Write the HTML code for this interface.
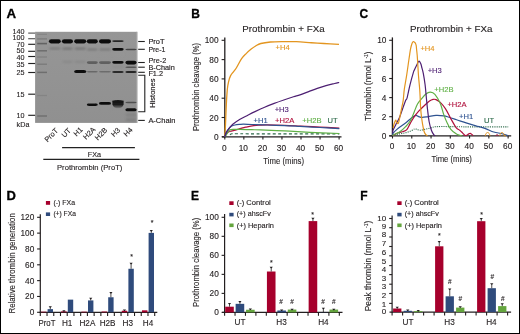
<!DOCTYPE html>
<html><head><meta charset="utf-8"><style>
html,body{margin:0;padding:0;background:#fff;}
svg{display:block;font-family:'Liberation Sans', sans-serif;will-change:transform;}
</style></head><body>
<svg width="520" height="334" viewBox="0 0 520 334">
<rect x="0" y="0" width="520" height="334" fill="#fff"/>
<text x="6.40" y="17.60" font-size="12" text-anchor="start" fill="#000" stroke="#000" stroke-width="0.3" font-weight="bold" textLength="9.6" lengthAdjust="spacingAndGlyphs" >A</text>
<text x="191.20" y="17.70" font-size="12" text-anchor="start" fill="#000" stroke="#000" stroke-width="0.3" font-weight="bold" >B</text>
<text x="359.60" y="17.70" font-size="12" text-anchor="start" fill="#000" stroke="#000" stroke-width="0.3" font-weight="bold" >C</text>
<text x="6.60" y="199.70" font-size="12" text-anchor="start" fill="#000" stroke="#000" stroke-width="0.3" font-weight="bold" textLength="9.4" lengthAdjust="spacingAndGlyphs" >D</text>
<text x="191.00" y="199.70" font-size="12" text-anchor="start" fill="#000" stroke="#000" stroke-width="0.3" font-weight="bold" >E</text>
<text x="360.30" y="199.70" font-size="12" text-anchor="start" fill="#000" stroke="#000" stroke-width="0.3" font-weight="bold" >F</text>
<defs><filter id="bl" x="-20%" y="-100%" width="140%" height="300%"><feGaussianBlur stdDeviation="0.55"/></filter><filter id="bl3" x="-20%" y="-100%" width="140%" height="300%"><feGaussianBlur stdDeviation="0.75"/></filter><filter id="bl2" x="-20%" y="-100%" width="140%" height="300%"><feGaussianBlur stdDeviation="0.8"/></filter><linearGradient id="gelg" x1="0" y1="0" x2="0" y2="1"><stop offset="0" stop-color="#969696"/><stop offset="1" stop-color="#909090"/></linearGradient><linearGradient id="h3g" x1="0" y1="0" x2="0" y2="1"><stop offset="0" stop-color="#141414"/><stop offset="0.55" stop-color="#1c1c1c"/><stop offset="1" stop-color="#7a7a7a"/></linearGradient></defs>
<rect x="35.10" y="31.80" width="102.20" height="91.10" fill="url(#gelg)" />
<rect x="136.30" y="31.80" width="1.00" height="91.10" fill="#a8a8a8" />
<g filter="url(#bl2)">
</g><g filter="url(#bl)">
<rect x="37.20" y="33.70" width="9.80" height="1.20" fill="#848484" />
<rect x="37.20" y="38.25" width="9.80" height="1.30" fill="#7c7c7c" />
<rect x="37.20" y="42.80" width="9.80" height="1.60" fill="#646464" />
<rect x="37.20" y="50.05" width="9.80" height="1.50" fill="#6e6e6e" />
<rect x="37.20" y="56.35" width="9.80" height="1.30" fill="#808080" />
<rect x="37.20" y="63.55" width="9.80" height="1.30" fill="#7a7a7a" />
<rect x="37.20" y="71.65" width="9.80" height="1.50" fill="#6e6e6e" />
<rect x="37.20" y="94.85" width="9.80" height="1.30" fill="#848484" />
<rect x="37.20" y="115.10" width="9.80" height="1.80" fill="#767676" />
</g><g filter="url(#bl2)">
<rect x="49.10" y="47.70" width="11.50" height="1.6" rx="1.8" ry="0.8" fill="#707070"/>
<rect x="62.10" y="47.80" width="10.70" height="1.6" rx="1.8" ry="0.8" fill="#6c6c6c"/>
<rect x="74.40" y="47.80" width="11.60" height="1.6" rx="1.8" ry="0.8" fill="#6c6c6c"/>
<rect x="87.00" y="48.85" width="10.60" height="1.5" rx="1.8" ry="0.75" fill="#6e6e6e"/>
<rect x="99.20" y="48.85" width="11.60" height="1.5" rx="1.8" ry="0.75" fill="#6e6e6e"/>
<rect x="62.10" y="61.05" width="10.70" height="1.5" rx="1.8" ry="0.75" fill="#848484"/>
<rect x="74.40" y="61.05" width="11.60" height="1.5" rx="1.8" ry="0.75" fill="#848484"/>
<rect x="87.00" y="54.00" width="10.60" height="1.2" rx="1.8" ry="0.6" fill="#959595"/>
<rect x="99.20" y="54.00" width="11.60" height="1.2" rx="1.8" ry="0.6" fill="#959595"/>
<rect x="112.40" y="54.00" width="11.10" height="1.2" rx="1.8" ry="0.6" fill="#979797"/>
<rect x="112.40" y="65.90" width="11.10" height="1.2" rx="1.8" ry="0.6" fill="#8c8c8c"/>
<rect x="112.40" y="66.40" width="11.10" height="1.2" rx="1.8" ry="0.6" fill="#8a8a8a"/>
<rect x="125.60" y="113.65" width="10.80" height="1.9" rx="1.8" ry="0.95" fill="#7c7c7c"/>
<rect x="125.60" y="118.85" width="10.80" height="2.3" rx="1.8" ry="1.15" fill="#7e7e7e"/>
<rect x="125.60" y="115.80" width="10.80" height="3.0" rx="1.8" ry="1.5" fill="#8c8c8c"/>
<rect x="87.00" y="107.40" width="10.60" height="2.4" rx="1.8" ry="1.2" fill="#929292"/>
<rect x="99.20" y="106.80" width="11.60" height="2.4" rx="1.8" ry="1.2" fill="#929292"/>
</g>
<g filter="url(#bl3)">
<rect x="48.90" y="39.15" width="11.90" height="4.3" rx="2.2" ry="2.15" fill="#0e0e0e"/>
<rect x="61.90" y="39.15" width="11.10" height="4.3" rx="2.2" ry="2.15" fill="#0e0e0e"/>
<rect x="74.20" y="39.15" width="12.00" height="4.3" rx="2.2" ry="2.15" fill="#0e0e0e"/>
<rect x="86.80" y="39.15" width="11.00" height="4.3" rx="2.2" ry="2.15" fill="#0e0e0e"/>
<rect x="99.00" y="39.15" width="12.00" height="4.3" rx="2.2" ry="2.15" fill="#0e0e0e"/>
<rect x="112.20" y="40.15" width="11.50" height="1.9" rx="2.2" ry="0.95" fill="#262626"/>
<rect x="112.20" y="47.90" width="11.50" height="2.8" rx="2.2" ry="1.40" fill="#0e0e0e"/>
<rect x="125.40" y="48.70" width="11.20" height="1.6" rx="2.2" ry="0.80" fill="#444"/>
<rect x="86.80" y="61.20" width="11.00" height="2.8" rx="2.2" ry="1.40" fill="#5e5e5e"/>
<rect x="99.00" y="61.20" width="12.00" height="2.8" rx="2.2" ry="1.40" fill="#606060"/>
<rect x="112.20" y="60.95" width="11.50" height="2.7" rx="2.2" ry="1.35" fill="#0e0e0e"/>
<rect x="125.40" y="60.80" width="11.20" height="3.6" rx="2.2" ry="1.80" fill="#0c0c0c"/>
<rect x="125.40" y="66.60" width="11.20" height="1.4" rx="2.2" ry="0.70" fill="#555"/>
<rect x="74.20" y="70.00" width="12.00" height="3.0" rx="2.2" ry="1.50" fill="#0a0a0a"/>
<rect x="86.80" y="70.90" width="11.00" height="1.6" rx="2.2" ry="0.80" fill="#686868"/>
<rect x="99.00" y="70.90" width="12.00" height="1.6" rx="2.2" ry="0.80" fill="#6c6c6c"/>
<rect x="112.20" y="70.90" width="11.50" height="2.2" rx="2.2" ry="1.10" fill="#2a2a2a"/>
<rect x="125.40" y="70.90" width="11.20" height="2.2" rx="2.2" ry="1.10" fill="#262626"/>
<rect x="86.80" y="103.60" width="11.00" height="2.3" rx="2.2" ry="1.15" fill="#0e0e0e"/>
<rect x="99.00" y="102.00" width="12.00" height="2.8" rx="2.2" ry="1.40" fill="#0e0e0e"/>
<rect x="125.40" y="101.75" width="11.20" height="1.5" rx="2.2" ry="0.75" fill="#505050"/>
<rect x="125.40" y="108.20" width="11.20" height="3.0" rx="2.2" ry="1.50" fill="#0a0a0a"/>
<path d="M112.3,100.8 Q118,99.4 123.7,100.8 L123.6,104.2 Q122.8,108.2 118,108.2 Q113.2,108.2 112.4,104.2 Z" fill="url(#h3g)"/>
</g>
<line x1="28.20" y1="33.10" x2="35.10" y2="33.10" stroke="#555" stroke-width="1.15" />
<text x="24.50" y="33.90" font-size="7.2" text-anchor="end" fill="#231f20" stroke="#231f20" stroke-width="0.12" font-weight="normal" >140</text>
<line x1="28.20" y1="38.70" x2="35.10" y2="38.70" stroke="#555" stroke-width="1.15" />
<text x="24.50" y="40.40" font-size="7.2" text-anchor="end" fill="#231f20" stroke="#231f20" stroke-width="0.12" font-weight="normal" >100</text>
<line x1="28.20" y1="44.30" x2="35.10" y2="44.30" stroke="#222" stroke-width="1.15" />
<text x="24.50" y="46.70" font-size="7.2" text-anchor="end" fill="#231f20" stroke="#231f20" stroke-width="0.12" font-weight="normal" >70</text>
<line x1="28.20" y1="51.30" x2="35.10" y2="51.30" stroke="#222" stroke-width="1.15" />
<text x="24.50" y="53.20" font-size="7.2" text-anchor="end" fill="#231f20" stroke="#231f20" stroke-width="0.12" font-weight="normal" >50</text>
<line x1="28.20" y1="56.50" x2="35.10" y2="56.50" stroke="#222" stroke-width="1.15" />
<text x="24.50" y="60.10" font-size="7.2" text-anchor="end" fill="#231f20" stroke="#231f20" stroke-width="0.12" font-weight="normal" >40</text>
<line x1="28.20" y1="63.50" x2="35.10" y2="63.50" stroke="#222" stroke-width="1.15" />
<text x="24.50" y="66.50" font-size="7.2" text-anchor="end" fill="#231f20" stroke="#231f20" stroke-width="0.12" font-weight="normal" >35</text>
<line x1="28.20" y1="72.50" x2="35.10" y2="72.50" stroke="#222" stroke-width="1.15" />
<text x="24.50" y="75.10" font-size="7.2" text-anchor="end" fill="#231f20" stroke="#231f20" stroke-width="0.12" font-weight="normal" >25</text>
<line x1="28.20" y1="94.20" x2="35.10" y2="94.20" stroke="#222" stroke-width="1.15" />
<text x="24.50" y="96.80" font-size="7.2" text-anchor="end" fill="#231f20" stroke="#231f20" stroke-width="0.12" font-weight="normal" >15</text>
<line x1="28.20" y1="115.30" x2="35.10" y2="115.30" stroke="#222" stroke-width="1.15" />
<text x="24.50" y="117.90" font-size="7.2" text-anchor="end" fill="#231f20" stroke="#231f20" stroke-width="0.12" font-weight="normal" >10</text>
<text x="16.60" y="127.00" font-size="7.2" text-anchor="start" fill="#231f20" stroke="#231f20" stroke-width="0.12" font-weight="normal" >kDa</text>
<line x1="138.20" y1="41.50" x2="144.80" y2="41.50" stroke="#222" stroke-width="1.1" />
<text x="148.40" y="43.60" font-size="7.7" text-anchor="start" fill="#231f20" stroke="#231f20" stroke-width="0.16" font-weight="normal" textLength="16.2" lengthAdjust="spacingAndGlyphs" >ProT</text>
<line x1="138.20" y1="49.30" x2="144.80" y2="49.30" stroke="#222" stroke-width="1.1" />
<text x="148.40" y="51.70" font-size="7.7" text-anchor="start" fill="#231f20" stroke="#231f20" stroke-width="0.16" font-weight="normal" textLength="17.0" lengthAdjust="spacingAndGlyphs" >Pre-1</text>
<line x1="138.20" y1="62.50" x2="144.80" y2="62.50" stroke="#222" stroke-width="1.1" />
<text x="148.40" y="62.70" font-size="7.7" text-anchor="start" fill="#231f20" stroke="#231f20" stroke-width="0.16" font-weight="normal" textLength="17.8" lengthAdjust="spacingAndGlyphs" >Pre-2</text>
<line x1="138.20" y1="67.20" x2="144.80" y2="67.20" stroke="#222" stroke-width="1.1" />
<text x="148.40" y="69.60" font-size="7.7" text-anchor="start" fill="#231f20" stroke="#231f20" stroke-width="0.16" font-weight="normal" textLength="26.3" lengthAdjust="spacingAndGlyphs" >B-Chain</text>
<line x1="138.20" y1="72.30" x2="144.80" y2="72.30" stroke="#222" stroke-width="1.1" />
<text x="148.40" y="75.90" font-size="7.7" text-anchor="start" fill="#231f20" stroke="#231f20" stroke-width="0.16" font-weight="normal" textLength="14.6" lengthAdjust="spacingAndGlyphs" >F1.2</text>
<line x1="138.20" y1="120.40" x2="144.80" y2="120.40" stroke="#222" stroke-width="1.1" />
<text x="148.40" y="122.70" font-size="7.7" text-anchor="start" fill="#231f20" stroke="#231f20" stroke-width="0.16" font-weight="normal" textLength="27.0" lengthAdjust="spacingAndGlyphs" >A-Chain</text>
<polyline points="138.2,75.2 144.8,75.2 144.8,111.7 138.2,111.7" fill="none" stroke="#222" stroke-width="1.1"/>
<text x="0.00" y="0.00" font-size="7.7" text-anchor="middle" fill="#231f20" stroke="#231f20" stroke-width="0.16" font-weight="normal" textLength="29.2" lengthAdjust="spacingAndGlyphs" transform="translate(155.0,93.2) rotate(-90)">Histones</text>
<text x="0.00" y="0.00" font-size="7.3" text-anchor="end" fill="#231f20" stroke="#231f20" stroke-width="0.12" font-weight="normal" transform="translate(58.6,131.2) rotate(-45)">ProT</text>
<text x="0.00" y="0.00" font-size="7.3" text-anchor="end" fill="#231f20" stroke="#231f20" stroke-width="0.12" font-weight="normal" transform="translate(71.4,131.2) rotate(-45)">UT</text>
<text x="0.00" y="0.00" font-size="7.3" text-anchor="end" fill="#231f20" stroke="#231f20" stroke-width="0.12" font-weight="normal" transform="translate(83.2,130.2) rotate(-45)">H1</text>
<text x="0.00" y="0.00" font-size="7.3" text-anchor="end" fill="#231f20" stroke="#231f20" stroke-width="0.12" font-weight="normal" transform="translate(96.0,130.0) rotate(-45)">H2A</text>
<text x="0.00" y="0.00" font-size="7.3" text-anchor="end" fill="#231f20" stroke="#231f20" stroke-width="0.12" font-weight="normal" transform="translate(107.8,130.6) rotate(-45)">H2B</text>
<text x="0.00" y="0.00" font-size="7.3" text-anchor="end" fill="#231f20" stroke="#231f20" stroke-width="0.12" font-weight="normal" transform="translate(120.5,130.6) rotate(-45)">H3</text>
<text x="0.00" y="0.00" font-size="7.3" text-anchor="end" fill="#231f20" stroke="#231f20" stroke-width="0.12" font-weight="normal" transform="translate(133.0,130.4) rotate(-45)">H4</text>
<line x1="62.10" y1="147.60" x2="134.90" y2="147.60" stroke="#222" stroke-width="1.1" />
<text x="94.45" y="157.40" font-size="7.2" text-anchor="middle" fill="#231f20" stroke="#231f20" stroke-width="0.12" font-weight="normal" >FXa</text>
<line x1="43.30" y1="159.40" x2="139.40" y2="159.40" stroke="#222" stroke-width="1.1" />
<text x="89.70" y="169.70" font-size="7.5" text-anchor="middle" fill="#231f20" stroke="#231f20" stroke-width="0.12" font-weight="normal" textLength="65.4" lengthAdjust="spacingAndGlyphs" >Prothrombin (ProT)</text>
<text x="283.45" y="31.80" font-size="9.2" text-anchor="middle" fill="#231f20" stroke="#231f20" stroke-width="0.12" font-weight="normal" textLength="82.3" lengthAdjust="spacingAndGlyphs" >Prothrombin + FXa</text>
<line x1="224.80" y1="37.40" x2="224.80" y2="137.40" stroke="#231f20" stroke-width="1.3" />
<line x1="222.00" y1="136.80" x2="341.50" y2="136.80" stroke="#231f20" stroke-width="1.3" />
<line x1="221.60" y1="136.80" x2="224.80" y2="136.80" stroke="#231f20" stroke-width="1.1" />
<text x="218.60" y="139.80" font-size="8.3" text-anchor="end" fill="#231f20" stroke="#231f20" stroke-width="0.12" font-weight="normal" >0</text>
<line x1="221.60" y1="117.50" x2="224.80" y2="117.50" stroke="#231f20" stroke-width="1.1" />
<text x="218.60" y="120.50" font-size="8.3" text-anchor="end" fill="#231f20" stroke="#231f20" stroke-width="0.12" font-weight="normal" >20</text>
<line x1="221.60" y1="98.20" x2="224.80" y2="98.20" stroke="#231f20" stroke-width="1.1" />
<text x="218.60" y="101.20" font-size="8.3" text-anchor="end" fill="#231f20" stroke="#231f20" stroke-width="0.12" font-weight="normal" >40</text>
<line x1="221.60" y1="78.90" x2="224.80" y2="78.90" stroke="#231f20" stroke-width="1.1" />
<text x="218.60" y="81.90" font-size="8.3" text-anchor="end" fill="#231f20" stroke="#231f20" stroke-width="0.12" font-weight="normal" >60</text>
<line x1="221.60" y1="59.60" x2="224.80" y2="59.60" stroke="#231f20" stroke-width="1.1" />
<text x="218.60" y="62.60" font-size="8.3" text-anchor="end" fill="#231f20" stroke="#231f20" stroke-width="0.12" font-weight="normal" >80</text>
<line x1="221.60" y1="40.30" x2="224.80" y2="40.30" stroke="#231f20" stroke-width="1.1" />
<text x="218.60" y="43.30" font-size="8.3" text-anchor="end" fill="#231f20" stroke="#231f20" stroke-width="0.12" font-weight="normal" >100</text>
<line x1="224.80" y1="136.80" x2="224.80" y2="139.60" stroke="#231f20" stroke-width="1.1" />
<text x="224.30" y="150.50" font-size="8.3" text-anchor="middle" fill="#231f20" stroke="#231f20" stroke-width="0.12" font-weight="normal" >0</text>
<line x1="243.85" y1="136.80" x2="243.85" y2="139.60" stroke="#231f20" stroke-width="1.1" />
<text x="243.35" y="150.50" font-size="8.3" text-anchor="middle" fill="#231f20" stroke="#231f20" stroke-width="0.12" font-weight="normal" >10</text>
<line x1="262.90" y1="136.80" x2="262.90" y2="139.60" stroke="#231f20" stroke-width="1.1" />
<text x="262.40" y="150.50" font-size="8.3" text-anchor="middle" fill="#231f20" stroke="#231f20" stroke-width="0.12" font-weight="normal" >20</text>
<line x1="281.95" y1="136.80" x2="281.95" y2="139.60" stroke="#231f20" stroke-width="1.1" />
<text x="281.45" y="150.50" font-size="8.3" text-anchor="middle" fill="#231f20" stroke="#231f20" stroke-width="0.12" font-weight="normal" >30</text>
<line x1="301.00" y1="136.80" x2="301.00" y2="139.60" stroke="#231f20" stroke-width="1.1" />
<text x="300.50" y="150.50" font-size="8.3" text-anchor="middle" fill="#231f20" stroke="#231f20" stroke-width="0.12" font-weight="normal" >40</text>
<line x1="320.05" y1="136.80" x2="320.05" y2="139.60" stroke="#231f20" stroke-width="1.1" />
<text x="319.55" y="150.50" font-size="8.3" text-anchor="middle" fill="#231f20" stroke="#231f20" stroke-width="0.12" font-weight="normal" >50</text>
<line x1="339.10" y1="136.80" x2="339.10" y2="139.60" stroke="#231f20" stroke-width="1.1" />
<text x="338.60" y="150.50" font-size="8.3" text-anchor="middle" fill="#231f20" stroke="#231f20" stroke-width="0.12" font-weight="normal" >60</text>
<text x="283.65" y="163.90" font-size="9.3" text-anchor="middle" fill="#231f20" stroke="#231f20" stroke-width="0.12" font-weight="normal" textLength="40.7" lengthAdjust="spacingAndGlyphs" >Time (mins)</text>
<text x="0.00" y="0.00" font-size="9.2" text-anchor="middle" fill="#231f20" stroke="#231f20" stroke-width="0.12" font-weight="normal" textLength="88.0" lengthAdjust="spacingAndGlyphs" transform="translate(199.4,87.0) rotate(-90)">Prothrombin cleavage (%)</text>
<path d="M224.80,136.80 C224.92,134.67 225.25,129.30 225.50,124.00 C225.75,118.70 226.00,110.75 226.30,105.00 C226.60,99.25 226.92,93.40 227.30,89.50 C227.68,85.60 228.07,83.87 228.60,81.60 C229.13,79.33 229.70,77.53 230.50,75.90 C231.30,74.27 232.43,73.12 233.40,71.80 C234.37,70.48 234.93,70.18 236.30,68.00 C237.67,65.82 239.92,61.13 241.60,58.70 C243.28,56.27 244.80,55.00 246.40,53.40 C248.00,51.80 249.60,50.38 251.20,49.10 C252.80,47.82 254.40,46.63 256.00,45.70 C257.60,44.77 258.38,44.12 260.80,43.50 C263.22,42.88 266.97,42.32 270.50,42.00 C274.03,41.68 277.70,41.65 282.00,41.60 C286.30,41.55 291.42,41.51 296.30,41.70 C301.18,41.89 306.72,42.45 311.30,42.75 C315.88,43.05 319.18,43.24 323.80,43.50 C328.42,43.76 336.47,44.17 339.00,44.30" fill="none" stroke="#e3951f" stroke-width="1.3"/>
<path d="M229.90,134.80 C230.25,134.63 230.32,133.97 232.00,133.80 C233.68,133.63 232.00,133.78 240.00,133.80 C248.00,133.82 263.45,133.88 280.00,133.90 C296.55,133.92 329.42,133.90 339.30,133.90" fill="none" stroke="#2d6a4a" stroke-width="1.1" stroke-dasharray="3.0,2.4"/>
<path d="M224.80,136.80 C224.90,136.60 225.20,136.00 225.40,135.60 C225.60,135.20 225.62,134.93 226.00,134.40 C226.38,133.87 226.93,132.93 227.70,132.40 C228.47,131.87 229.52,131.53 230.60,131.20 C231.68,130.87 232.63,130.83 234.20,130.40 C235.77,129.97 238.08,129.13 240.00,128.60 C241.92,128.07 243.42,127.70 245.70,127.20 C247.98,126.70 251.32,125.95 253.70,125.60 C256.08,125.25 257.75,125.22 260.00,125.10 C262.25,124.98 263.08,124.87 267.20,124.90 C271.32,124.93 279.23,125.12 284.70,125.30 C290.17,125.48 294.12,125.72 300.00,126.00 C305.88,126.28 313.45,126.65 320.00,127.00 C326.55,127.35 336.08,127.92 339.30,128.10" fill="none" stroke="#b0103c" stroke-width="1.2"/>
<path d="M224.80,136.80 C224.93,136.67 225.23,136.52 225.60,136.00 C225.97,135.48 226.52,134.50 227.00,133.70 C227.48,132.90 228.02,131.83 228.50,131.20 C228.98,130.57 229.18,130.20 229.90,129.90 C230.62,129.60 231.12,129.48 232.80,129.40 C234.48,129.32 236.80,129.35 240.00,129.40 C243.20,129.45 248.58,129.62 252.00,129.70 C255.42,129.78 255.05,129.70 260.50,129.90 C265.95,130.10 276.45,130.50 284.70,130.90 C292.95,131.30 300.90,131.87 310.00,132.30 C319.10,132.73 334.42,133.30 339.30,133.50" fill="none" stroke="#5fb045" stroke-width="1.2"/>
<path d="M224.80,136.80 C224.97,136.33 225.43,134.87 225.80,134.00 C226.17,133.13 226.43,132.57 227.00,131.60 C227.57,130.63 228.48,129.10 229.20,128.20 C229.92,127.30 230.35,126.73 231.30,126.20 C232.25,125.67 233.45,125.30 234.90,125.00 C236.35,124.70 238.57,124.53 240.00,124.40 C241.43,124.27 241.50,124.18 243.50,124.20 C245.50,124.22 248.05,124.37 252.00,124.50 C255.95,124.63 261.75,124.82 267.20,125.00 C272.65,125.18 279.23,125.37 284.70,125.60 C290.17,125.83 294.12,126.08 300.00,126.40 C305.88,126.72 313.45,127.13 320.00,127.50 C326.55,127.87 336.08,128.42 339.30,128.60" fill="none" stroke="#2f5391" stroke-width="1.2"/>
<path d="M224.80,136.80 C225.05,136.03 225.57,133.62 226.30,132.20 C227.03,130.78 228.12,129.62 229.20,128.30 C230.28,126.98 231.00,125.80 232.80,124.30 C234.60,122.80 237.50,120.82 240.00,119.30 C242.50,117.78 245.30,116.48 247.80,115.20 C250.30,113.92 252.20,112.93 255.00,111.60 C257.80,110.27 261.40,108.57 264.60,107.20 C267.80,105.83 271.00,104.60 274.20,103.40 C277.40,102.20 280.58,101.10 283.80,100.00 C287.02,98.90 290.80,97.65 293.50,96.80 C296.20,95.95 297.47,95.77 300.00,94.90 C302.53,94.03 305.82,92.68 308.70,91.60 C311.58,90.52 314.42,89.40 317.30,88.40 C320.18,87.40 323.12,86.42 326.00,85.60 C328.88,84.78 332.40,84.02 334.60,83.50 C336.80,82.98 338.43,82.67 339.20,82.50" fill="none" stroke="#4d1f72" stroke-width="1.2"/>
<text x="275.60" y="50.30" font-size="7.6" text-anchor="start" fill="#e3951f" stroke="#e3951f" stroke-width="0.12" font-weight="normal" >+H4</text>
<text x="274.70" y="111.80" font-size="7.6" text-anchor="start" fill="#4d1f72" stroke="#4d1f72" stroke-width="0.12" font-weight="normal" >+H3</text>
<text x="253.60" y="122.90" font-size="7.6" text-anchor="start" fill="#2f5391" stroke="#2f5391" stroke-width="0.12" font-weight="normal" >+H1</text>
<text x="275.00" y="122.90" font-size="7.6" text-anchor="start" fill="#b0103c" stroke="#b0103c" stroke-width="0.12" font-weight="normal" >+H2A</text>
<text x="302.30" y="122.90" font-size="7.6" text-anchor="start" fill="#5fb045" stroke="#5fb045" stroke-width="0.12" font-weight="normal" >+H2B</text>
<text x="327.60" y="122.90" font-size="7.6" text-anchor="start" fill="#2d6a4a" stroke="#2d6a4a" stroke-width="0.12" font-weight="normal" >UT</text>
<text x="451.20" y="31.80" font-size="9.2" text-anchor="middle" fill="#231f20" stroke="#231f20" stroke-width="0.12" font-weight="normal" textLength="82.3" lengthAdjust="spacingAndGlyphs" >Prothrombin + FXa</text>
<line x1="392.40" y1="37.40" x2="392.40" y2="136.40" stroke="#231f20" stroke-width="1.3" />
<line x1="389.20" y1="135.80" x2="511.20" y2="135.80" stroke="#231f20" stroke-width="1.3" />
<line x1="389.20" y1="135.80" x2="392.40" y2="135.80" stroke="#231f20" stroke-width="1.1" />
<text x="386.40" y="138.80" font-size="8.3" text-anchor="end" fill="#231f20" stroke="#231f20" stroke-width="0.12" font-weight="normal" >0</text>
<line x1="389.20" y1="116.70" x2="392.40" y2="116.70" stroke="#231f20" stroke-width="1.1" />
<text x="386.40" y="119.70" font-size="8.3" text-anchor="end" fill="#231f20" stroke="#231f20" stroke-width="0.12" font-weight="normal" >2</text>
<line x1="389.20" y1="97.60" x2="392.40" y2="97.60" stroke="#231f20" stroke-width="1.1" />
<text x="386.40" y="100.60" font-size="8.3" text-anchor="end" fill="#231f20" stroke="#231f20" stroke-width="0.12" font-weight="normal" >4</text>
<line x1="389.20" y1="78.50" x2="392.40" y2="78.50" stroke="#231f20" stroke-width="1.1" />
<text x="386.40" y="81.50" font-size="8.3" text-anchor="end" fill="#231f20" stroke="#231f20" stroke-width="0.12" font-weight="normal" >6</text>
<line x1="389.20" y1="59.40" x2="392.40" y2="59.40" stroke="#231f20" stroke-width="1.1" />
<text x="386.40" y="62.40" font-size="8.3" text-anchor="end" fill="#231f20" stroke="#231f20" stroke-width="0.12" font-weight="normal" >8</text>
<line x1="389.20" y1="40.30" x2="392.40" y2="40.30" stroke="#231f20" stroke-width="1.1" />
<text x="386.40" y="43.30" font-size="8.3" text-anchor="end" fill="#231f20" stroke="#231f20" stroke-width="0.12" font-weight="normal" >10</text>
<line x1="392.50" y1="135.80" x2="392.50" y2="138.50" stroke="#231f20" stroke-width="1.1" />
<text x="392.10" y="148.80" font-size="8.3" text-anchor="middle" fill="#231f20" stroke="#231f20" stroke-width="0.12" font-weight="normal" >0</text>
<line x1="411.77" y1="135.80" x2="411.77" y2="138.50" stroke="#231f20" stroke-width="1.1" />
<text x="411.37" y="148.80" font-size="8.3" text-anchor="middle" fill="#231f20" stroke="#231f20" stroke-width="0.12" font-weight="normal" >10</text>
<line x1="431.04" y1="135.80" x2="431.04" y2="138.50" stroke="#231f20" stroke-width="1.1" />
<text x="430.64" y="148.80" font-size="8.3" text-anchor="middle" fill="#231f20" stroke="#231f20" stroke-width="0.12" font-weight="normal" >20</text>
<line x1="450.31" y1="135.80" x2="450.31" y2="138.50" stroke="#231f20" stroke-width="1.1" />
<text x="449.91" y="148.80" font-size="8.3" text-anchor="middle" fill="#231f20" stroke="#231f20" stroke-width="0.12" font-weight="normal" >30</text>
<line x1="469.58" y1="135.80" x2="469.58" y2="138.50" stroke="#231f20" stroke-width="1.1" />
<text x="469.18" y="148.80" font-size="8.3" text-anchor="middle" fill="#231f20" stroke="#231f20" stroke-width="0.12" font-weight="normal" >40</text>
<line x1="488.85" y1="135.80" x2="488.85" y2="138.50" stroke="#231f20" stroke-width="1.1" />
<text x="488.45" y="148.80" font-size="8.3" text-anchor="middle" fill="#231f20" stroke="#231f20" stroke-width="0.12" font-weight="normal" >50</text>
<line x1="508.12" y1="135.80" x2="508.12" y2="138.50" stroke="#231f20" stroke-width="1.1" />
<text x="507.72" y="148.80" font-size="8.3" text-anchor="middle" fill="#231f20" stroke="#231f20" stroke-width="0.12" font-weight="normal" >60</text>
<text x="451.70" y="162.10" font-size="9.3" text-anchor="middle" fill="#231f20" stroke="#231f20" stroke-width="0.12" font-weight="normal" textLength="40.4" lengthAdjust="spacingAndGlyphs" >Time (mins)</text>
<text font-size="9.2" fill="#231f20" stroke="#231f20" stroke-width="0.12" text-anchor="middle" textLength="69" lengthAdjust="spacingAndGlyphs" transform="translate(371.0,86.2) rotate(-90)">Thrombin (nmol L<tspan font-size="5.5" dy="-3.2">-1</tspan><tspan dy="3.2">)</tspan></text>
<path d="M392.60,135.60 C392.77,135.52 392.43,135.38 393.60,135.10 C394.77,134.82 397.60,134.30 399.60,133.90 C401.60,133.50 403.70,133.20 405.60,132.70 C407.50,132.20 409.50,131.53 411.00,130.90 C412.50,130.27 413.60,129.15 414.60,128.90 C415.60,128.65 416.10,129.17 417.00,129.40 C417.90,129.63 418.72,130.30 420.00,130.30 C421.28,130.30 422.92,129.80 424.70,129.40 C426.48,129.00 428.82,128.35 430.70,127.90 C432.58,127.45 432.78,126.92 436.00,126.70 C439.22,126.48 444.33,126.57 450.00,126.60 C455.67,126.63 460.30,126.85 470.00,126.90 C479.70,126.95 501.83,126.90 508.20,126.90" fill="none" stroke="#2d6a4a" stroke-width="1.1" stroke-dasharray="1.1,1.1"/>
<path d="M392.60,135.80 C392.67,135.38 392.23,134.42 393.00,133.30 C393.77,132.18 395.70,130.40 397.20,129.10 C398.70,127.80 400.40,126.68 402.00,125.50 C403.60,124.32 405.30,123.18 406.80,122.00 C408.30,120.82 409.52,119.50 411.00,118.40 C412.48,117.30 414.42,115.70 415.70,115.40 C416.98,115.10 417.60,116.27 418.70,116.60 C419.80,116.93 420.70,117.40 422.30,117.40 C423.90,117.40 426.02,116.93 428.30,116.60 C430.58,116.27 433.40,115.52 436.00,115.40 C438.60,115.28 441.73,115.58 443.90,115.90 C446.07,116.22 446.67,116.58 449.00,117.30 C451.33,118.02 454.92,119.23 457.90,120.20 C460.88,121.17 463.90,122.17 466.90,123.10 C469.90,124.03 472.90,124.92 475.90,125.80 C478.90,126.68 481.92,127.37 484.90,128.40 C487.88,129.43 491.12,131.15 493.80,132.00 C496.48,132.85 498.90,133.00 501.00,133.50 C503.10,134.00 505.23,134.62 506.40,135.00 C507.57,135.38 507.73,135.67 508.00,135.80" fill="none" stroke="#2f5391" stroke-width="1.2"/>
<path d="M392.60,135.80 C392.77,135.67 392.63,135.52 393.60,135.00 C394.57,134.48 396.80,133.28 398.40,132.70 C400.00,132.12 401.80,132.00 403.20,131.50 C404.60,131.00 405.60,131.10 406.80,129.70 C408.00,128.30 409.20,125.18 410.40,123.10 C411.60,121.02 412.62,119.18 414.00,117.20 C415.38,115.22 416.92,113.20 418.70,111.20 C420.48,109.20 422.90,106.90 424.70,105.20 C426.50,103.50 428.10,101.97 429.50,101.00 C430.90,100.03 432.02,99.63 433.10,99.40 C434.18,99.17 434.80,99.10 436.00,99.60 C437.20,100.10 438.73,100.88 440.30,102.40 C441.87,103.92 443.65,106.00 445.40,108.70 C447.15,111.40 449.02,115.45 450.80,118.60 C452.58,121.75 454.62,125.67 456.10,127.60 C457.58,129.53 458.63,129.32 459.70,130.20 C460.77,131.08 461.65,132.05 462.50,132.90 C463.35,133.75 464.12,134.90 464.80,135.30 C465.48,135.70 466.00,135.50 466.60,135.30 C467.20,135.10 467.80,134.43 468.40,134.10 C469.00,133.77 469.62,133.25 470.20,133.30 C470.78,133.35 471.40,134.02 471.90,134.40 C472.40,134.78 472.98,135.40 473.20,135.60" fill="none" stroke="#b0103c" stroke-width="1.2"/>
<path d="M392.60,135.80 C392.77,135.62 392.43,135.32 393.60,134.70 C394.77,134.08 397.60,133.43 399.60,132.10 C401.60,130.77 403.80,128.58 405.60,126.70 C407.40,124.82 409.00,123.18 410.40,120.80 C411.80,118.42 412.82,115.20 414.00,112.40 C415.18,109.60 416.22,106.30 417.50,104.00 C418.78,101.70 420.30,100.28 421.70,98.60 C423.10,96.92 424.45,94.97 425.90,93.90 C427.35,92.83 428.90,92.12 430.40,92.20 C431.90,92.28 433.25,92.50 434.90,94.40 C436.55,96.30 438.85,100.32 440.30,103.60 C441.75,106.88 442.45,110.85 443.60,114.10 C444.75,117.35 446.00,120.57 447.20,123.10 C448.40,125.63 449.32,127.52 450.80,129.30 C452.28,131.08 454.62,132.80 456.10,133.80 C457.58,134.80 458.72,134.97 459.70,135.30 C460.68,135.63 461.62,135.72 462.00,135.80" fill="none" stroke="#5fb045" stroke-width="1.2"/>
<path d="M392.80,133.00 C392.83,132.55 392.47,131.75 393.00,130.30 C393.53,128.85 394.90,126.48 396.00,124.30 C397.10,122.12 398.50,119.78 399.60,117.20 C400.70,114.62 401.60,111.60 402.60,108.80 C403.60,106.00 404.87,102.17 405.60,100.40 C406.33,98.63 406.27,100.80 407.00,98.20 C407.73,95.60 408.93,89.12 410.00,84.80 C411.07,80.48 412.65,74.82 413.40,72.30 C414.15,69.78 414.00,70.78 414.50,69.70 C415.00,68.62 415.68,67.22 416.40,65.80 C417.12,64.38 418.07,61.55 418.80,61.20 C419.53,60.85 420.28,62.60 420.80,63.70 C421.32,64.80 421.48,66.18 421.90,67.80 C422.32,69.42 422.77,70.57 423.30,73.40 C423.83,76.23 424.58,80.67 425.10,84.80 C425.62,88.93 425.98,94.00 426.40,98.20 C426.82,102.40 427.13,106.03 427.60,110.00 C428.07,113.97 428.57,118.62 429.20,122.00 C429.83,125.38 430.65,128.18 431.40,130.30 C432.15,132.42 433.07,133.78 433.70,134.70 C434.33,135.62 434.95,135.62 435.20,135.80" fill="none" stroke="#4d1f72" stroke-width="1.2"/>
<path d="M393.40,128.00 C393.43,127.58 393.37,126.50 393.60,125.50 C393.83,124.50 394.45,122.88 394.80,122.00 C395.15,121.12 395.40,120.20 395.70,120.20 C396.00,120.20 396.25,121.42 396.60,122.00 C396.95,122.58 397.47,123.60 397.80,123.70 C398.13,123.80 398.30,123.48 398.60,122.60 C398.90,121.72 399.23,120.10 399.60,118.40 C399.97,116.70 400.40,114.40 400.80,112.40 C401.20,110.40 401.60,108.40 402.00,106.40 C402.40,104.40 402.82,103.25 403.20,100.40 C403.58,97.55 403.73,93.42 404.30,89.30 C404.87,85.18 405.87,80.42 406.60,75.70 C407.33,70.98 408.18,64.57 408.70,61.00 C409.22,57.43 409.38,56.37 409.70,54.30 C410.02,52.23 410.28,50.20 410.60,48.60 C410.92,47.00 411.27,45.75 411.60,44.70 C411.93,43.65 412.28,42.82 412.60,42.30 C412.92,41.78 413.18,41.62 413.50,41.60 C413.82,41.58 414.18,41.92 414.50,42.20 C414.82,42.48 415.12,42.72 415.40,43.30 C415.68,43.88 416.00,44.67 416.20,45.70 C416.40,46.73 416.43,47.90 416.60,49.50 C416.77,51.10 417.03,53.38 417.20,55.30 C417.37,57.22 417.38,57.60 417.60,61.00 C417.82,64.40 418.15,70.98 418.50,75.70 C418.85,80.42 419.42,85.52 419.70,89.30 C419.98,93.08 420.05,95.35 420.20,98.40 C420.35,101.45 420.40,104.67 420.60,107.60 C420.80,110.53 421.07,113.22 421.40,116.00 C421.73,118.78 422.15,121.72 422.60,124.30 C423.05,126.88 423.55,129.77 424.10,131.50 C424.65,133.23 425.33,133.98 425.90,134.70 C426.47,135.42 427.23,135.62 427.50,135.80" fill="none" stroke="#e3951f" stroke-width="1.2"/>
<path d="M485.3,135.8 C485.9,131.4 489.3,131.4 489.9,135.8" fill="none" stroke="#e3951f" stroke-width="1.0"/>
<path d="M499.8,135.8 C500.4,131.4 503.6,131.4 504.2,135.8 L505.8,135.8" fill="none" stroke="#e3951f" stroke-width="1.0"/>
<path d="M495.8,135.8 C496.3,134.2 497.8,134.2 498.4,135.8" fill="none" stroke="#b0103c" stroke-width="0.9"/>
<text x="420.40" y="51.00" font-size="7.6" text-anchor="start" fill="#e3951f" stroke="#e3951f" stroke-width="0.12" font-weight="normal" >+H4</text>
<text x="427.70" y="73.10" font-size="7.6" text-anchor="start" fill="#4d1f72" stroke="#4d1f72" stroke-width="0.12" font-weight="normal" >+H3</text>
<text x="434.30" y="92.30" font-size="7.6" text-anchor="start" fill="#5fb045" stroke="#5fb045" stroke-width="0.12" font-weight="normal" >+H2B</text>
<text x="447.40" y="107.10" font-size="7.6" text-anchor="start" fill="#b0103c" stroke="#b0103c" stroke-width="0.12" font-weight="normal" >+H2A</text>
<text x="459.00" y="118.90" font-size="7.6" text-anchor="start" fill="#2f5391" stroke="#2f5391" stroke-width="0.12" font-weight="normal" >+H1</text>
<text x="484.00" y="123.40" font-size="7.6" text-anchor="start" fill="#2d6a4a" stroke="#2d6a4a" stroke-width="0.12" font-weight="normal" >UT</text>
<line x1="40.30" y1="214.30" x2="40.30" y2="312.90" stroke="#231f20" stroke-width="1.2" />
<line x1="39.70" y1="312.30" x2="157.30" y2="312.30" stroke="#231f20" stroke-width="1.2" />
<line x1="37.10" y1="312.30" x2="40.30" y2="312.30" stroke="#231f20" stroke-width="1.1" />
<text x="34.30" y="315.30" font-size="8.3" text-anchor="end" fill="#231f20" stroke="#231f20" stroke-width="0.12" font-weight="normal" >0</text>
<line x1="37.10" y1="296.47" x2="40.30" y2="296.47" stroke="#231f20" stroke-width="1.1" />
<text x="34.30" y="299.47" font-size="8.3" text-anchor="end" fill="#231f20" stroke="#231f20" stroke-width="0.12" font-weight="normal" >20</text>
<line x1="37.10" y1="280.63" x2="40.30" y2="280.63" stroke="#231f20" stroke-width="1.1" />
<text x="34.30" y="283.63" font-size="8.3" text-anchor="end" fill="#231f20" stroke="#231f20" stroke-width="0.12" font-weight="normal" >40</text>
<line x1="37.10" y1="264.80" x2="40.30" y2="264.80" stroke="#231f20" stroke-width="1.1" />
<text x="34.30" y="267.80" font-size="8.3" text-anchor="end" fill="#231f20" stroke="#231f20" stroke-width="0.12" font-weight="normal" >60</text>
<line x1="37.10" y1="248.96" x2="40.30" y2="248.96" stroke="#231f20" stroke-width="1.1" />
<text x="34.30" y="251.96" font-size="8.3" text-anchor="end" fill="#231f20" stroke="#231f20" stroke-width="0.12" font-weight="normal" >80</text>
<line x1="37.10" y1="233.13" x2="40.30" y2="233.13" stroke="#231f20" stroke-width="1.1" />
<text x="34.30" y="236.13" font-size="8.3" text-anchor="end" fill="#231f20" stroke="#231f20" stroke-width="0.12" font-weight="normal" >100</text>
<line x1="37.10" y1="217.30" x2="40.30" y2="217.30" stroke="#231f20" stroke-width="1.1" />
<text x="34.30" y="220.30" font-size="8.3" text-anchor="end" fill="#231f20" stroke="#231f20" stroke-width="0.12" font-weight="normal" >120</text>
<line x1="40.30" y1="312.30" x2="40.30" y2="316.00" stroke="#231f20" stroke-width="1.1" />
<line x1="47.03" y1="312.30" x2="47.03" y2="316.00" stroke="#231f20" stroke-width="1.1" />
<line x1="53.76" y1="312.30" x2="53.76" y2="316.00" stroke="#231f20" stroke-width="1.1" />
<line x1="60.49" y1="312.30" x2="60.49" y2="316.00" stroke="#231f20" stroke-width="1.1" />
<line x1="67.22" y1="312.30" x2="67.22" y2="316.00" stroke="#231f20" stroke-width="1.1" />
<line x1="73.95" y1="312.30" x2="73.95" y2="316.00" stroke="#231f20" stroke-width="1.1" />
<line x1="80.68" y1="312.30" x2="80.68" y2="316.00" stroke="#231f20" stroke-width="1.1" />
<line x1="87.41" y1="312.30" x2="87.41" y2="316.00" stroke="#231f20" stroke-width="1.1" />
<line x1="94.14" y1="312.30" x2="94.14" y2="316.00" stroke="#231f20" stroke-width="1.1" />
<line x1="100.87" y1="312.30" x2="100.87" y2="316.00" stroke="#231f20" stroke-width="1.1" />
<line x1="107.60" y1="312.30" x2="107.60" y2="316.00" stroke="#231f20" stroke-width="1.1" />
<line x1="114.33" y1="312.30" x2="114.33" y2="316.00" stroke="#231f20" stroke-width="1.1" />
<line x1="121.06" y1="312.30" x2="121.06" y2="316.00" stroke="#231f20" stroke-width="1.1" />
<line x1="127.79" y1="312.30" x2="127.79" y2="316.00" stroke="#231f20" stroke-width="1.1" />
<line x1="134.52" y1="312.30" x2="134.52" y2="316.00" stroke="#231f20" stroke-width="1.1" />
<line x1="141.25" y1="312.30" x2="141.25" y2="316.00" stroke="#231f20" stroke-width="1.1" />
<line x1="147.98" y1="312.30" x2="147.98" y2="316.00" stroke="#231f20" stroke-width="1.1" />
<line x1="154.71" y1="312.30" x2="154.71" y2="316.00" stroke="#231f20" stroke-width="1.1" />
<rect x="41.00" y="311.67" width="5.40" height="0.63" fill="#a6002c" />
<rect x="47.60" y="309.13" width="5.40" height="3.17" fill="#2f4b7c" />
<line x1="50.30" y1="307.26" x2="50.30" y2="309.13" stroke="#231f20" stroke-width="0.8" />
<path d="M48.70,306.36 L51.90,306.36 L50.75,307.86 L49.85,307.86 Z" fill="#231f20"/>
<text x="47.00" y="325.50" font-size="8.2" text-anchor="middle" fill="#231f20" stroke="#231f20" stroke-width="0.12" font-weight="normal" textLength="16.9" lengthAdjust="spacingAndGlyphs" >ProT</text>
<rect x="61.20" y="311.35" width="5.40" height="0.95" fill="#a6002c" />
<rect x="67.80" y="299.63" width="5.40" height="12.67" fill="#2f4b7c" />
<line x1="63.90" y1="311.22" x2="63.90" y2="311.35" stroke="#231f20" stroke-width="0.8" />
<path d="M62.30,310.32 L65.50,310.32 L64.35,311.82 L63.45,311.82 Z" fill="#231f20"/>
<text x="67.20" y="325.50" font-size="8.2" text-anchor="middle" fill="#231f20" stroke="#231f20" stroke-width="0.12" font-weight="normal" >H1</text>
<rect x="81.40" y="311.67" width="5.40" height="0.63" fill="#a6002c" />
<rect x="88.00" y="300.42" width="5.40" height="11.88" fill="#2f4b7c" />
<line x1="90.70" y1="298.55" x2="90.70" y2="300.42" stroke="#231f20" stroke-width="0.8" />
<path d="M89.10,297.65 L92.30,297.65 L91.15,299.15 L90.25,299.15 Z" fill="#231f20"/>
<text x="87.40" y="325.50" font-size="8.2" text-anchor="middle" fill="#231f20" stroke="#231f20" stroke-width="0.12" font-weight="normal" >H2A</text>
<rect x="101.60" y="311.51" width="5.40" height="0.79" fill="#a6002c" />
<rect x="108.20" y="297.26" width="5.40" height="15.04" fill="#2f4b7c" />
<line x1="110.90" y1="293.01" x2="110.90" y2="297.26" stroke="#231f20" stroke-width="0.8" />
<path d="M109.30,292.11 L112.50,292.11 L111.35,293.61 L110.45,293.61 Z" fill="#231f20"/>
<text x="107.60" y="325.50" font-size="8.2" text-anchor="middle" fill="#231f20" stroke="#231f20" stroke-width="0.12" font-weight="normal" >H2B</text>
<rect x="121.80" y="310.72" width="5.40" height="1.58" fill="#a6002c" />
<rect x="128.40" y="268.76" width="5.40" height="43.54" fill="#2f4b7c" />
<line x1="131.10" y1="263.71" x2="131.10" y2="268.76" stroke="#231f20" stroke-width="0.8" />
<path d="M129.50,262.81 L132.70,262.81 L131.55,264.31 L130.65,264.31 Z" fill="#231f20"/>
<line x1="124.50" y1="310.42" x2="124.50" y2="310.72" stroke="#231f20" stroke-width="0.8" />
<path d="M122.90,309.52 L126.10,309.52 L124.95,311.02 L124.05,311.02 Z" fill="#231f20"/>
<text x="127.80" y="325.50" font-size="8.2" text-anchor="middle" fill="#231f20" stroke="#231f20" stroke-width="0.12" font-weight="normal" >H3</text>
<rect x="142.00" y="310.32" width="5.40" height="1.98" fill="#a6002c" />
<rect x="148.60" y="232.89" width="5.40" height="79.41" fill="#2f4b7c" />
<line x1="151.30" y1="230.78" x2="151.30" y2="232.89" stroke="#231f20" stroke-width="0.8" />
<path d="M149.70,229.88 L152.90,229.88 L151.75,231.38 L150.85,231.38 Z" fill="#231f20"/>
<text x="148.00" y="325.50" font-size="8.2" text-anchor="middle" fill="#231f20" stroke="#231f20" stroke-width="0.12" font-weight="normal" >H4</text>
<text x="131.70" y="259.10" font-size="7" text-anchor="middle" fill="#231f20" stroke="#231f20" stroke-width="0.12" font-weight="normal" >*</text>
<text x="152.20" y="225.30" font-size="7" text-anchor="middle" fill="#231f20" stroke="#231f20" stroke-width="0.12" font-weight="normal" >*</text>
<rect x="45.90" y="201.00" width="4.20" height="3.80" fill="#a6002c" />
<text x="53.40" y="204.70" font-size="6.8" text-anchor="start" fill="#231f20" stroke="#231f20" stroke-width="0.12" font-weight="normal" textLength="21.7" lengthAdjust="spacingAndGlyphs" >(-) FXa</text>
<rect x="45.90" y="212.40" width="4.20" height="3.60" fill="#2f4b7c" />
<text x="53.40" y="216.10" font-size="6.8" text-anchor="start" fill="#231f20" stroke="#231f20" stroke-width="0.12" font-weight="normal" textLength="22.5" lengthAdjust="spacingAndGlyphs" >(+) FXa</text>
<text x="0.00" y="0.00" font-size="8.4" text-anchor="middle" fill="#231f20" stroke="#231f20" stroke-width="0.12" font-weight="normal" textLength="100.2" lengthAdjust="spacingAndGlyphs" transform="translate(15.0,263.3) rotate(-90)">Relative thrombin generation</text>
<line x1="224.60" y1="214.00" x2="224.60" y2="313.00" stroke="#231f20" stroke-width="1.2" />
<line x1="222.10" y1="312.40" x2="342.50" y2="312.40" stroke="#231f20" stroke-width="1.2" />
<line x1="221.60" y1="312.40" x2="224.60" y2="312.40" stroke="#231f20" stroke-width="1.1" />
<text x="218.80" y="315.40" font-size="8.3" text-anchor="end" fill="#231f20" stroke="#231f20" stroke-width="0.12" font-weight="normal" >0</text>
<line x1="221.60" y1="293.38" x2="224.60" y2="293.38" stroke="#231f20" stroke-width="1.1" />
<text x="218.80" y="296.38" font-size="8.3" text-anchor="end" fill="#231f20" stroke="#231f20" stroke-width="0.12" font-weight="normal" >20</text>
<line x1="221.60" y1="274.36" x2="224.60" y2="274.36" stroke="#231f20" stroke-width="1.1" />
<text x="218.80" y="277.36" font-size="8.3" text-anchor="end" fill="#231f20" stroke="#231f20" stroke-width="0.12" font-weight="normal" >40</text>
<line x1="221.60" y1="255.34" x2="224.60" y2="255.34" stroke="#231f20" stroke-width="1.1" />
<text x="218.80" y="258.34" font-size="8.3" text-anchor="end" fill="#231f20" stroke="#231f20" stroke-width="0.12" font-weight="normal" >60</text>
<line x1="221.60" y1="236.32" x2="224.60" y2="236.32" stroke="#231f20" stroke-width="1.1" />
<text x="218.80" y="239.32" font-size="8.3" text-anchor="end" fill="#231f20" stroke="#231f20" stroke-width="0.12" font-weight="normal" >80</text>
<line x1="221.60" y1="217.30" x2="224.60" y2="217.30" stroke="#231f20" stroke-width="1.1" />
<text x="218.80" y="220.30" font-size="8.3" text-anchor="end" fill="#231f20" stroke="#231f20" stroke-width="0.12" font-weight="normal" >100</text>
<line x1="224.60" y1="312.40" x2="224.60" y2="315.80" stroke="#231f20" stroke-width="1.1" />
<line x1="235.03" y1="312.40" x2="235.03" y2="315.80" stroke="#231f20" stroke-width="1.1" />
<line x1="245.46" y1="312.40" x2="245.46" y2="315.80" stroke="#231f20" stroke-width="1.1" />
<line x1="255.89" y1="312.40" x2="255.89" y2="315.80" stroke="#231f20" stroke-width="1.1" />
<line x1="266.32" y1="312.40" x2="266.32" y2="315.80" stroke="#231f20" stroke-width="1.1" />
<line x1="276.75" y1="312.40" x2="276.75" y2="315.80" stroke="#231f20" stroke-width="1.1" />
<line x1="287.18" y1="312.40" x2="287.18" y2="315.80" stroke="#231f20" stroke-width="1.1" />
<line x1="297.61" y1="312.40" x2="297.61" y2="315.80" stroke="#231f20" stroke-width="1.1" />
<line x1="308.04" y1="312.40" x2="308.04" y2="315.80" stroke="#231f20" stroke-width="1.1" />
<line x1="318.47" y1="312.40" x2="318.47" y2="315.80" stroke="#231f20" stroke-width="1.1" />
<line x1="328.90" y1="312.40" x2="328.90" y2="315.80" stroke="#231f20" stroke-width="1.1" />
<line x1="339.33" y1="312.40" x2="339.33" y2="315.80" stroke="#231f20" stroke-width="1.1" />
<rect x="225.20" y="306.69" width="8.60" height="5.71" fill="#a6002c" />
<line x1="229.50" y1="303.87" x2="229.50" y2="306.69" stroke="#231f20" stroke-width="0.8" />
<path d="M227.90,302.97 L231.10,302.97 L229.95,304.47 L229.05,304.47 Z" fill="#231f20"/>
<rect x="235.63" y="303.84" width="8.60" height="8.56" fill="#2f4b7c" />
<line x1="239.93" y1="301.96" x2="239.93" y2="303.84" stroke="#231f20" stroke-width="0.8" />
<path d="M238.33,301.06 L241.53,301.06 L240.38,302.56 L239.48,302.56 Z" fill="#231f20"/>
<rect x="246.06" y="309.74" width="8.60" height="2.66" fill="#64a53e" />
<line x1="250.36" y1="309.29" x2="250.36" y2="309.74" stroke="#231f20" stroke-width="0.8" />
<path d="M248.76,308.39 L251.96,308.39 L250.81,309.89 L249.91,309.89 Z" fill="#231f20"/>
<rect x="266.92" y="271.51" width="8.60" height="40.89" fill="#a6002c" />
<line x1="271.22" y1="267.73" x2="271.22" y2="271.51" stroke="#231f20" stroke-width="0.8" />
<path d="M269.62,266.83 L272.82,266.83 L271.67,268.33 L270.77,268.33 Z" fill="#231f20"/>
<rect x="277.35" y="310.50" width="8.60" height="1.90" fill="#2f4b7c" />
<line x1="281.65" y1="310.43" x2="281.65" y2="310.50" stroke="#231f20" stroke-width="0.8" />
<path d="M280.05,309.53 L283.25,309.53 L282.10,311.03 L281.20,311.03 Z" fill="#231f20"/>
<rect x="287.78" y="309.55" width="8.60" height="2.85" fill="#64a53e" />
<line x1="292.08" y1="309.76" x2="292.08" y2="309.55" stroke="#231f20" stroke-width="0.8" />
<path d="M290.48,308.86 L293.68,308.86 L292.53,310.36 L291.63,310.36 Z" fill="#231f20"/>
<rect x="308.64" y="221.10" width="8.60" height="91.30" fill="#a6002c" />
<line x1="312.94" y1="218.75" x2="312.94" y2="221.10" stroke="#231f20" stroke-width="0.8" />
<path d="M311.34,217.85 L314.54,217.85 L313.39,219.35 L312.49,219.35 Z" fill="#231f20"/>
<rect x="319.07" y="312.21" width="8.60" height="0.19" fill="#2f4b7c" />
<line x1="323.37" y1="308.53" x2="323.37" y2="312.21" stroke="#231f20" stroke-width="0.8" />
<path d="M321.77,307.63 L324.97,307.63 L323.82,309.13 L322.92,309.13 Z" fill="#231f20"/>
<rect x="329.50" y="309.55" width="8.60" height="2.85" fill="#64a53e" />
<line x1="333.80" y1="309.76" x2="333.80" y2="309.55" stroke="#231f20" stroke-width="0.8" />
<path d="M332.20,308.86 L335.40,308.86 L334.25,310.36 L333.35,310.36 Z" fill="#231f20"/>
<text x="240.00" y="325.10" font-size="8.2" text-anchor="middle" fill="#231f20" stroke="#231f20" stroke-width="0.12" font-weight="normal" >UT</text>
<text x="281.60" y="325.10" font-size="8.2" text-anchor="middle" fill="#231f20" stroke="#231f20" stroke-width="0.12" font-weight="normal" >H3</text>
<text x="323.40" y="325.10" font-size="8.2" text-anchor="middle" fill="#231f20" stroke="#231f20" stroke-width="0.12" font-weight="normal" >H4</text>
<text x="271.30" y="265.10" font-size="7" text-anchor="middle" fill="#231f20" stroke="#231f20" stroke-width="0.12" font-weight="normal" >*</text>
<text x="312.50" y="217.20" font-size="7" text-anchor="middle" fill="#231f20" stroke="#231f20" stroke-width="0.12" font-weight="normal" >*</text>
<text x="281.00" y="303.70" font-size="6.5" text-anchor="middle" fill="#231f20" stroke="#231f20" stroke-width="0.12" font-weight="normal" >#</text>
<text x="292.10" y="303.70" font-size="6.5" text-anchor="middle" fill="#231f20" stroke="#231f20" stroke-width="0.12" font-weight="normal" >#</text>
<text x="323.10" y="303.70" font-size="6.5" text-anchor="middle" fill="#231f20" stroke="#231f20" stroke-width="0.12" font-weight="normal" >#</text>
<text x="333.75" y="303.70" font-size="6.5" text-anchor="middle" fill="#231f20" stroke="#231f20" stroke-width="0.12" font-weight="normal" >#</text>
<rect x="229.30" y="201.30" width="4.30" height="3.70" fill="#a6002c" />
<text x="236.70" y="205.40" font-size="6.8" text-anchor="start" fill="#231f20" stroke="#231f20" stroke-width="0.12" font-weight="normal" textLength="34.1" lengthAdjust="spacingAndGlyphs" >(-) Control</text>
<rect x="229.30" y="212.80" width="4.30" height="3.60" fill="#2f4b7c" />
<text x="236.70" y="215.90" font-size="6.8" text-anchor="start" fill="#231f20" stroke="#231f20" stroke-width="0.12" font-weight="normal" textLength="34.1" lengthAdjust="spacingAndGlyphs" >(+) ahscFv</text>
<rect x="229.30" y="223.50" width="4.30" height="3.60" fill="#64a53e" />
<text x="236.70" y="227.60" font-size="6.8" text-anchor="start" fill="#231f20" stroke="#231f20" stroke-width="0.12" font-weight="normal" textLength="37.2" lengthAdjust="spacingAndGlyphs" >(+) Heparin</text>
<text x="0.00" y="0.00" font-size="8.8" text-anchor="middle" fill="#231f20" stroke="#231f20" stroke-width="0.12" font-weight="normal" textLength="89.2" lengthAdjust="spacingAndGlyphs" transform="translate(198.9,262.3) rotate(-90)">Prothrombin cleavage (%)</text>
<line x1="392.10" y1="215.40" x2="392.10" y2="312.70" stroke="#231f20" stroke-width="1.2" />
<line x1="389.50" y1="312.10" x2="511.10" y2="312.10" stroke="#231f20" stroke-width="1.2" />
<line x1="389.20" y1="218.50" x2="392.10" y2="218.50" stroke="#231f20" stroke-width="1.1" />
<line x1="389.20" y1="227.70" x2="392.10" y2="227.70" stroke="#231f20" stroke-width="1.1" />
<line x1="389.20" y1="237.00" x2="392.10" y2="237.00" stroke="#231f20" stroke-width="1.1" />
<line x1="389.20" y1="246.50" x2="392.10" y2="246.50" stroke="#231f20" stroke-width="1.1" />
<line x1="389.20" y1="255.80" x2="392.10" y2="255.80" stroke="#231f20" stroke-width="1.1" />
<line x1="389.20" y1="265.60" x2="392.10" y2="265.60" stroke="#231f20" stroke-width="1.1" />
<line x1="389.20" y1="274.60" x2="392.10" y2="274.60" stroke="#231f20" stroke-width="1.1" />
<line x1="389.20" y1="284.20" x2="392.10" y2="284.20" stroke="#231f20" stroke-width="1.1" />
<line x1="389.20" y1="293.50" x2="392.10" y2="293.50" stroke="#231f20" stroke-width="1.1" />
<line x1="389.20" y1="303.40" x2="392.10" y2="303.40" stroke="#231f20" stroke-width="1.1" />
<text x="386.20" y="220.80" font-size="8.0" text-anchor="end" fill="#231f20" stroke="#231f20" stroke-width="0.12" font-weight="normal" >10</text>
<text x="386.20" y="229.10" font-size="8.0" text-anchor="end" fill="#231f20" stroke="#231f20" stroke-width="0.12" font-weight="normal" >9</text>
<text x="386.20" y="237.30" font-size="8.0" text-anchor="end" fill="#231f20" stroke="#231f20" stroke-width="0.12" font-weight="normal" >8</text>
<text x="386.20" y="246.40" font-size="8.0" text-anchor="end" fill="#231f20" stroke="#231f20" stroke-width="0.12" font-weight="normal" >7</text>
<text x="386.20" y="255.40" font-size="8.0" text-anchor="end" fill="#231f20" stroke="#231f20" stroke-width="0.12" font-weight="normal" >6</text>
<text x="386.20" y="263.50" font-size="8.0" text-anchor="end" fill="#231f20" stroke="#231f20" stroke-width="0.12" font-weight="normal" >5</text>
<text x="386.20" y="272.40" font-size="8.0" text-anchor="end" fill="#231f20" stroke="#231f20" stroke-width="0.12" font-weight="normal" >4</text>
<text x="386.20" y="280.60" font-size="8.0" text-anchor="end" fill="#231f20" stroke="#231f20" stroke-width="0.12" font-weight="normal" >3</text>
<text x="386.20" y="289.00" font-size="8.0" text-anchor="end" fill="#231f20" stroke="#231f20" stroke-width="0.12" font-weight="normal" >3</text>
<text x="386.20" y="298.20" font-size="8.0" text-anchor="end" fill="#231f20" stroke="#231f20" stroke-width="0.12" font-weight="normal" >2</text>
<text x="386.20" y="306.80" font-size="8.0" text-anchor="end" fill="#231f20" stroke="#231f20" stroke-width="0.12" font-weight="normal" >1</text>
<text x="386.20" y="314.40" font-size="8.0" text-anchor="end" fill="#231f20" stroke="#231f20" stroke-width="0.12" font-weight="normal" >0</text>
<line x1="392.10" y1="312.10" x2="392.10" y2="315.60" stroke="#231f20" stroke-width="1.1" />
<line x1="402.60" y1="312.10" x2="402.60" y2="315.60" stroke="#231f20" stroke-width="1.1" />
<line x1="413.10" y1="312.10" x2="413.10" y2="315.60" stroke="#231f20" stroke-width="1.1" />
<line x1="423.60" y1="312.10" x2="423.60" y2="315.60" stroke="#231f20" stroke-width="1.1" />
<line x1="434.10" y1="312.10" x2="434.10" y2="315.60" stroke="#231f20" stroke-width="1.1" />
<line x1="444.60" y1="312.10" x2="444.60" y2="315.60" stroke="#231f20" stroke-width="1.1" />
<line x1="455.10" y1="312.10" x2="455.10" y2="315.60" stroke="#231f20" stroke-width="1.1" />
<line x1="465.60" y1="312.10" x2="465.60" y2="315.60" stroke="#231f20" stroke-width="1.1" />
<line x1="476.10" y1="312.10" x2="476.10" y2="315.60" stroke="#231f20" stroke-width="1.1" />
<line x1="486.60" y1="312.10" x2="486.60" y2="315.60" stroke="#231f20" stroke-width="1.1" />
<line x1="497.10" y1="312.10" x2="497.10" y2="315.60" stroke="#231f20" stroke-width="1.1" />
<line x1="507.60" y1="312.10" x2="507.60" y2="315.60" stroke="#231f20" stroke-width="1.1" />
<rect x="393.10" y="308.50" width="8.30" height="3.60" fill="#a6002c" />
<line x1="397.25" y1="307.60" x2="397.25" y2="308.50" stroke="#231f20" stroke-width="0.8" />
<path d="M395.65,306.70 L398.85,306.70 L397.70,308.20 L396.80,308.20 Z" fill="#231f20"/>
<rect x="403.60" y="310.80" width="8.30" height="1.30" fill="#2f4b7c" />
<line x1="407.75" y1="310.30" x2="407.75" y2="310.80" stroke="#231f20" stroke-width="0.8" />
<path d="M406.15,309.40 L409.35,309.40 L408.20,310.90 L407.30,310.90 Z" fill="#231f20"/>
<rect x="414.10" y="311.10" width="8.30" height="1.00" fill="#64a53e" />
<line x1="418.25" y1="311.00" x2="418.25" y2="311.10" stroke="#231f20" stroke-width="0.8" />
<path d="M416.65,310.10 L419.85,310.10 L418.70,311.60 L417.80,311.60 Z" fill="#231f20"/>
<rect x="435.10" y="246.30" width="8.30" height="65.80" fill="#a6002c" />
<line x1="439.25" y1="242.00" x2="439.25" y2="246.30" stroke="#231f20" stroke-width="0.8" />
<path d="M437.65,241.10 L440.85,241.10 L439.70,242.60 L438.80,242.60 Z" fill="#231f20"/>
<rect x="445.60" y="296.30" width="8.30" height="15.80" fill="#2f4b7c" />
<line x1="449.75" y1="289.30" x2="449.75" y2="296.30" stroke="#231f20" stroke-width="0.8" />
<path d="M448.15,288.40 L451.35,288.40 L450.20,289.90 L449.30,289.90 Z" fill="#231f20"/>
<rect x="456.10" y="307.60" width="8.30" height="4.50" fill="#64a53e" />
<line x1="460.25" y1="307.20" x2="460.25" y2="307.60" stroke="#231f20" stroke-width="0.8" />
<path d="M458.65,306.30 L461.85,306.30 L460.70,307.80 L459.80,307.80 Z" fill="#231f20"/>
<rect x="477.10" y="221.20" width="8.30" height="90.90" fill="#a6002c" />
<line x1="481.25" y1="219.00" x2="481.25" y2="221.20" stroke="#231f20" stroke-width="0.8" />
<path d="M479.65,218.10 L482.85,218.10 L481.70,219.60 L480.80,219.60 Z" fill="#231f20"/>
<rect x="487.60" y="288.20" width="8.30" height="23.90" fill="#2f4b7c" />
<line x1="491.75" y1="284.20" x2="491.75" y2="288.20" stroke="#231f20" stroke-width="0.8" />
<path d="M490.15,283.30 L493.35,283.30 L492.20,284.80 L491.30,284.80 Z" fill="#231f20"/>
<rect x="498.10" y="306.10" width="8.30" height="6.00" fill="#64a53e" />
<line x1="502.25" y1="304.20" x2="502.25" y2="306.10" stroke="#231f20" stroke-width="0.8" />
<path d="M500.65,303.30 L503.85,303.30 L502.70,304.80 L501.80,304.80 Z" fill="#231f20"/>
<text x="408.00" y="325.10" font-size="8.2" text-anchor="middle" fill="#231f20" stroke="#231f20" stroke-width="0.12" font-weight="normal" >UT</text>
<text x="449.60" y="325.10" font-size="8.2" text-anchor="middle" fill="#231f20" stroke="#231f20" stroke-width="0.12" font-weight="normal" >H3</text>
<text x="491.40" y="325.10" font-size="8.2" text-anchor="middle" fill="#231f20" stroke="#231f20" stroke-width="0.12" font-weight="normal" >H4</text>
<text x="439.40" y="237.90" font-size="7" text-anchor="middle" fill="#231f20" stroke="#231f20" stroke-width="0.12" font-weight="normal" >*</text>
<text x="481.50" y="216.50" font-size="7" text-anchor="middle" fill="#231f20" stroke="#231f20" stroke-width="0.12" font-weight="normal" >*</text>
<text x="449.80" y="284.30" font-size="6.5" text-anchor="middle" fill="#231f20" stroke="#231f20" stroke-width="0.12" font-weight="normal" >#</text>
<text x="460.30" y="300.70" font-size="6.5" text-anchor="middle" fill="#231f20" stroke="#231f20" stroke-width="0.12" font-weight="normal" >#</text>
<text x="492.30" y="278.60" font-size="6.5" text-anchor="middle" fill="#231f20" stroke="#231f20" stroke-width="0.12" font-weight="normal" >#</text>
<text x="502.70" y="301.00" font-size="6.5" text-anchor="middle" fill="#231f20" stroke="#231f20" stroke-width="0.12" font-weight="normal" >#</text>
<rect x="397.30" y="201.30" width="4.30" height="3.70" fill="#a6002c" />
<text x="404.70" y="205.40" font-size="6.8" text-anchor="start" fill="#231f20" stroke="#231f20" stroke-width="0.12" font-weight="normal" textLength="34.1" lengthAdjust="spacingAndGlyphs" >(-) Control</text>
<rect x="397.30" y="212.80" width="4.30" height="3.60" fill="#2f4b7c" />
<text x="404.70" y="215.90" font-size="6.8" text-anchor="start" fill="#231f20" stroke="#231f20" stroke-width="0.12" font-weight="normal" textLength="34.1" lengthAdjust="spacingAndGlyphs" >(+) ahscFv</text>
<rect x="397.30" y="223.50" width="4.30" height="3.60" fill="#64a53e" />
<text x="404.70" y="227.60" font-size="6.8" text-anchor="start" fill="#231f20" stroke="#231f20" stroke-width="0.12" font-weight="normal" textLength="37.2" lengthAdjust="spacingAndGlyphs" >(+) Heparin</text>
<text font-size="8.6" fill="#231f20" stroke="#231f20" stroke-width="0.12" text-anchor="middle" textLength="90.5" lengthAdjust="spacingAndGlyphs" transform="translate(370.9,265.9) rotate(-90)">Peak thrombin (nmol L<tspan font-size="5.2" dy="-3">-1</tspan><tspan dy="3">)</tspan></text>
<rect x="0.5" y="0.5" width="519" height="333" fill="none" stroke="#000" stroke-width="1"/>
</svg>
</body></html>
